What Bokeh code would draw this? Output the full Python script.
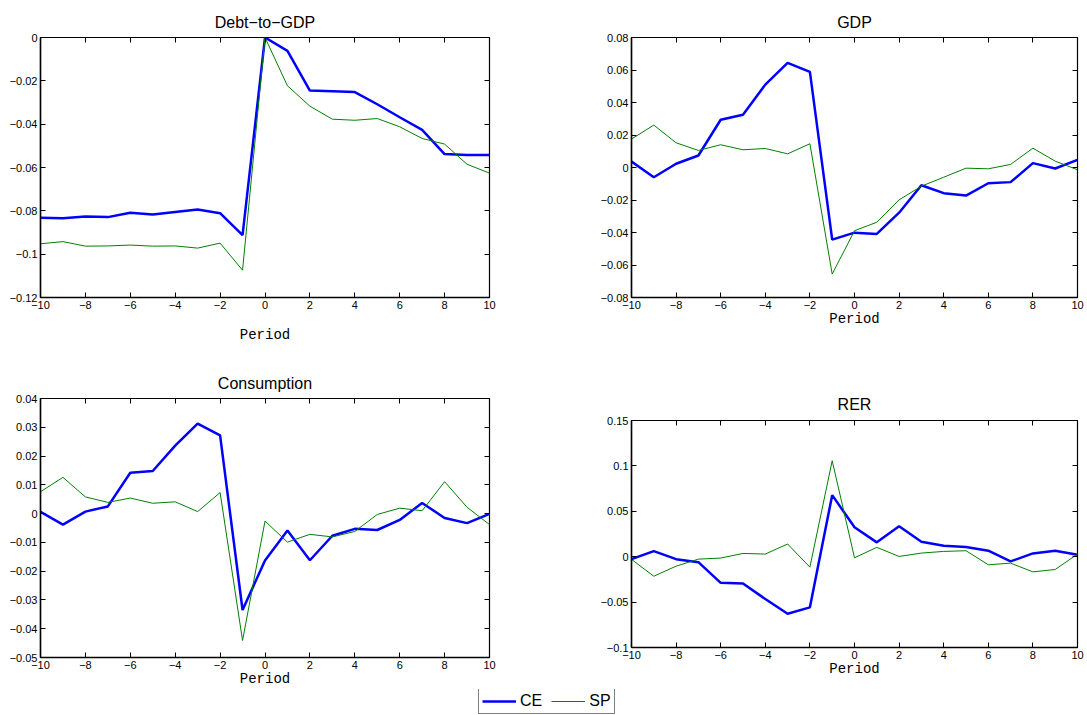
from bokeh.plotting import figure
from bokeh.layouts import column, row
from bokeh.models import Range1d, FixedTicker, LinearAxis, Legend, LegendItem, CustomJSTickFormatter
from bokeh.embed import file_html
from bokeh.resources import INLINE

periods = list(range(-10, 11))

debt_ce = [-0.0832, -0.0834, -0.0826, -0.0829, -0.0809, -0.0817, -0.0805, -0.0794, -0.0811, -0.0912,
           0.0, -0.0062, -0.0245, -0.0248, -0.0252, -0.0308, -0.0368, -0.0426, -0.0538, -0.0542, -0.0542]
debt_sp = [-0.0952, -0.0942, -0.0963, -0.0962, -0.0958, -0.0963, -0.0962, -0.0972, -0.0949, -0.1074,
           0.0, -0.0223, -0.0317, -0.0377, -0.0382, -0.0374, -0.0412, -0.0466, -0.0492, -0.0585, -0.0626]

gdp_ce = [0.0037, -0.0060, 0.0023, 0.0074, 0.0294, 0.0325, 0.0510, 0.0644, 0.0588, -0.0444,
          -0.0401, -0.0409, -0.0278, -0.0109, -0.0158, -0.0173, -0.0097, -0.0090, 0.0027, -0.0006, 0.0047]
gdp_sp = [0.0175, 0.0261, 0.0152, 0.0105, 0.0140, 0.0109, 0.0117, 0.0084, 0.0146, -0.0656,
          -0.0389, -0.0337, -0.0199, -0.0115, -0.0060, -0.0004, -0.0008, 0.0019, 0.0119, 0.0039, -0.0014]

cons_ce = [0.0006, -0.0038, 0.0007, 0.0025, 0.0142, 0.0148, 0.0236, 0.0313, 0.0272, -0.0335,
           -0.0163, -0.0059, -0.0162, -0.0077, -0.0053, -0.0057, -0.0022, 0.0037, -0.0015, -0.0033, -0.0001]
cons_sp = [0.0076, 0.0126, 0.0058, 0.0039, 0.0054, 0.0036, 0.0041, 0.0007, 0.0073, -0.0441,
           -0.0026, -0.0099, -0.0072, -0.0081, -0.0062, -0.0003, 0.0019, 0.0010, 0.0111, 0.0022, -0.0038]

rer_ce = [-0.0027, 0.0062, -0.0027, -0.0060, -0.0288, -0.0296, -0.0466, -0.0628, -0.0558, 0.0678,
          0.0324, 0.0158, 0.0335, 0.0165, 0.0121, 0.0106, 0.0066, -0.0052, 0.0036, 0.0066, 0.0021]
rer_sp = [-0.0030, -0.0215, -0.0104, -0.0027, -0.0015, 0.0036, 0.0029, 0.0140, -0.0115, 0.1057,
          -0.0012, 0.0103, 0.0003, 0.0040, 0.0058, 0.0066, -0.0089, -0.0071, -0.0167, -0.0141, 0.0029]

x_ticks = [-10, -8, -6, -4, -2, 0, 2, 4, 6, 8, 10]
x_tick_labels = ["\u221210", "\u22128", "\u22126", "\u22124", "\u22122", "0", "2", "4", "6", "8", "10"]

debt_yticks = [-0.12, -0.1, -0.08, -0.06, -0.04, -0.02, 0.0]
debt_ylabels = ["\u22120.12", "\u22120.1", "\u22120.08", "\u22120.06", "\u22120.04", "\u22120.02", "0"]
gdp_yticks = [-0.08, -0.06, -0.04, -0.02, 0.0, 0.02, 0.04, 0.06, 0.08]
gdp_ylabels = ["\u22120.08", "\u22120.06", "\u22120.04", "\u22120.02", "0", "0.02", "0.04", "0.06", "0.08"]
cons_yticks = [-0.05, -0.04, -0.03, -0.02, -0.01, 0.0, 0.01, 0.02, 0.03, 0.04]
cons_ylabels = ["\u22120.05", "\u22120.04", "\u22120.03", "\u22120.02", "\u22120.01", "0",
                "0.01", "0.02", "0.03", "0.04"]
rer_yticks = [-0.1, -0.05, 0.0, 0.05, 0.1, 0.15]
rer_ylabels = ["\u22120.1", "\u22120.05", "0", "0.05", "0.1", "0.15"]

titles = ["Debt\u2212to\u2212GDP", "GDP", "Consumption", "RER"]
x_label = "Period"
series_names = ["CE", "SP"]

CE_COLOR = "#0000ff"
SP_COLOR = "#008000"
SANS = "Liberation Sans"
MONO = "Liberation Mono"


def fmt(ticks, labels):
    return CustomJSTickFormatter(args=dict(t=ticks, l=labels), code="""
        for (let i = 0; i < t.length; i++) { if (Math.abs(tick - t[i]) < 1e-9) return l[i]; }
        return "";
    """)


def style_axis(ax, show_labels):
    ax.major_tick_in = 5
    ax.major_tick_out = 0
    ax.minor_tick_line_color = None
    ax.major_tick_line_color = "black"
    ax.major_tick_line_width = 1
    ax.axis_line_color = "black"
    ax.axis_line_width = 1.5
    ax.major_label_text_color = "black"
    ax.major_label_text_font = SANS
    if show_labels:
        ax.major_label_text_font_size = "11px"
        ax.major_label_standoff = 3
    else:
        ax.major_label_text_font_size = "0px"
        ax.major_label_standoff = 0
        ax.axis_line_color = None


def panel(title, ce, sp, yticks, ylabels, width, height, bl, br, bt, bb, lab_standoff, title_standoff):
    p = figure(width=width, height=height, x_range=Range1d(x_ticks[0], x_ticks[-1]),
               y_range=Range1d(yticks[0], yticks[-1]), toolbar_location=None,
               output_backend="svg", min_border_left=bl, min_border_right=br,
               min_border_top=bt, min_border_bottom=bb)
    p.xgrid.visible = False
    p.ygrid.visible = False
    p.outline_line_color = "black"
    p.outline_line_width = 1.2
    p.background_fill_color = "white"
    p.border_fill_color = "white"

    p.xaxis[0].ticker = FixedTicker(ticks=x_ticks)
    p.xaxis[0].formatter = fmt(x_ticks, x_tick_labels)
    p.yaxis[0].ticker = FixedTicker(ticks=yticks)
    p.yaxis[0].formatter = fmt(yticks, ylabels)
    style_axis(p.xaxis[0], True)
    style_axis(p.yaxis[0], True)
    p.xaxis[0].axis_label = x_label
    p.xaxis[0].axis_label_text_font = MONO
    p.xaxis[0].axis_label_text_font_size = "14px"
    p.xaxis[0].axis_label_text_font_style = "normal"
    p.xaxis[0].axis_label_text_color = "black"
    p.xaxis[0].axis_label_standoff = lab_standoff

    top = LinearAxis(ticker=FixedTicker(ticks=x_ticks), formatter=fmt([], []))
    right = LinearAxis(ticker=FixedTicker(ticks=yticks), formatter=fmt([], []))
    style_axis(top, False)
    style_axis(right, False)
    p.add_layout(top, "above")
    p.add_layout(right, "right")

    p.title.text = title
    p.title.align = "center"
    p.title.vertical_align = "top"
    p.title.text_font = SANS
    p.title.text_font_size = "16px"
    p.title.text_font_style = "normal"
    p.title.text_color = "black"
    p.title.standoff = title_standoff

    p.line(periods, ce, line_color=CE_COLOR, line_width=2.5)
    p.line(periods, sp, line_color=SP_COLOR, line_width=1)
    return p


f1 = panel(titles[0], debt_ce, debt_sp, debt_yticks, debt_ylabels, 560, 360, 40, 71, 37, 63, 15, 10)
f2 = panel(titles[1], gdp_ce, gdp_sp, gdp_yticks, gdp_ylabels, 527, 360, 71, 10, 37, 63, -1, 10)
f3 = panel(titles[2], cons_ce, cons_sp, cons_yticks, cons_ylabels, 560, 329, 40, 71, 38, 31, -1, 10)
f4 = panel(titles[3], rer_ce, rer_sp, rer_yticks, rer_ylabels, 527, 329, 71, 10, 60, 42, -1, 12)

leg = figure(width=1087, height=26, x_range=Range1d(0, 1), y_range=Range1d(0, 1),
             toolbar_location=None, output_backend="svg", x_axis_type=None, y_axis_type=None,
             min_border_left=0, min_border_right=0, min_border_top=0, min_border_bottom=0)
leg.xgrid.visible = False
leg.ygrid.visible = False
leg.outline_line_color = None
# one-point lines: nothing is drawn in the plot area, they only supply the legend samples
r_ce = leg.line(periods[:1], cons_ce[:1], line_color=CE_COLOR, line_width=2.5)
r_sp = leg.line(periods[:1], cons_sp[:1], line_color=SP_COLOR, line_width=1)
legend = Legend(items=[LegendItem(label=series_names[0], renderers=[r_ce]),
                       LegendItem(label=series_names[1], renderers=[r_sp])],
                orientation="horizontal", location=(478, 1), margin=0, padding=3,
                spacing=9, glyph_width=34, glyph_height=18, label_height=18,
                label_standoff=4, label_text_font=SANS, label_text_font_size="16px",
                label_text_color="black", border_line_color="black", border_line_width=1,
                background_fill_color="white", background_fill_alpha=1)
leg.add_layout(legend, "center")

layout = column(row(column(f1, f3), column(f2, f4)), leg)

with open("out.html", "w") as fh:
    fh.write(file_html(layout, INLINE))
